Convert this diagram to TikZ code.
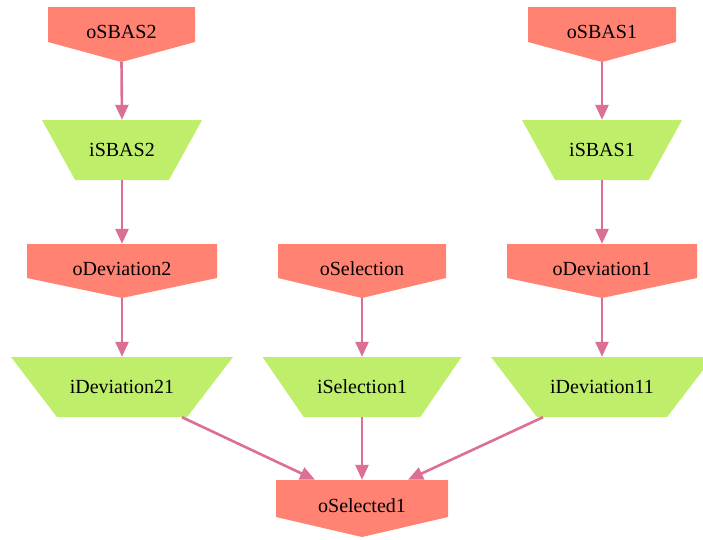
\documentclass[tikz,border=0pt]{standalone}
\usepackage{fontspec}
\setmainfont{Liberation Serif}
\usetikzlibrary{arrows.meta,calc}
\definecolor{ocol}{HTML}{FF8272}
\definecolor{gcol}{HTML}{BEEE6A}
\definecolor{ecol}{HTML}{DB7093}
\tikzset{
  ohouse/.style={minimum height=55pt, inner sep=0pt, font=\fontsize{20}{23}\selectfont,
    text height=13.5pt, text depth=5pt,
    path picture={\fill[ocol] (path picture bounding box.north west) -- (path picture bounding box.north east)
      -- ([yshift=20pt]path picture bounding box.south east) -- (path picture bounding box.south)
      -- ([yshift=20pt]path picture bounding box.south west) -- cycle;}},
  gtrap/.style={minimum height=60pt, inner sep=0pt, font=\fontsize{20}{23}\selectfont,
    path picture={\fill[gcol] (path picture bounding box.north west) -- (path picture bounding box.north east)
      -- ($(path picture bounding box.south east)!0.207!(path picture bounding box.south west)$)
      -- ($(path picture bounding box.south west)!0.207!(path picture bounding box.south east)$) -- cycle;}},
  edge/.style={draw=ecol, line width=2.6pt, -{Triangle[length=15pt,width=13pt]}}
}
\begin{document}
\begin{tikzpicture}[x=1pt,y=-1pt]
\useasboundingbox (0,0) rectangle (703,539);
\clip (0,0) rectangle (703,539);
\node[ohouse, minimum width=147pt] (oSBAS2) at (121.5,34.5) {oSBAS2};
\node[gtrap, minimum width=160pt] (iSBAS2) at (122,150) {iSBAS2};
\node[ohouse, minimum width=190pt, minimum height=54pt] (oDev2) at (122,271) {oDeviation2};
\node[gtrap, minimum width=222pt] (iDev21) at (122,387) {iDeviation21};
\node[ohouse, minimum width=168pt, minimum height=54pt] (oSel) at (362,271) {oSelection};
\node[gtrap, minimum width=199pt] (iSel1) at (362,387) {iSelection1};
\node[ohouse, minimum width=190pt, minimum height=54pt] (oDev1) at (602,271) {oDeviation1};
\node[gtrap, minimum width=222pt] (iDev11) at (602,387) {iDeviation11};
\node[ohouse, minimum width=148pt] (oSBAS1) at (602,34.5) {oSBAS1};
\node[gtrap, minimum width=160pt] (iSBAS1) at (602,150) {iSBAS1};
\node[ohouse, minimum width=172pt, minimum height=57pt] (oSel1) at (362,508.5) {oSelected1};
\draw[edge] (oSBAS2.south) -- (iSBAS2.north);
\draw[edge] (iSBAS2.south) -- (oDev2.north);
\draw[edge] (oDev2.south) -- (iDev21.north);
\draw[edge] (oSel.south) -- (iSel1.north);
\draw[edge] (oSBAS1.south) -- (iSBAS1.north);
\draw[edge] (iSBAS1.south) -- (oDev1.north);
\draw[edge] (oDev1.south) -- (iDev11.north);
\draw[edge] (iSel1.south) -- (oSel1.north);
\draw[edge] ([xshift=60pt]iDev21.south) -- ([xshift=-47pt]oSel1.north);
\draw[edge] ([xshift=-59pt]iDev11.south) -- ([xshift=46pt]oSel1.north);
\end{tikzpicture}
\end{document}
